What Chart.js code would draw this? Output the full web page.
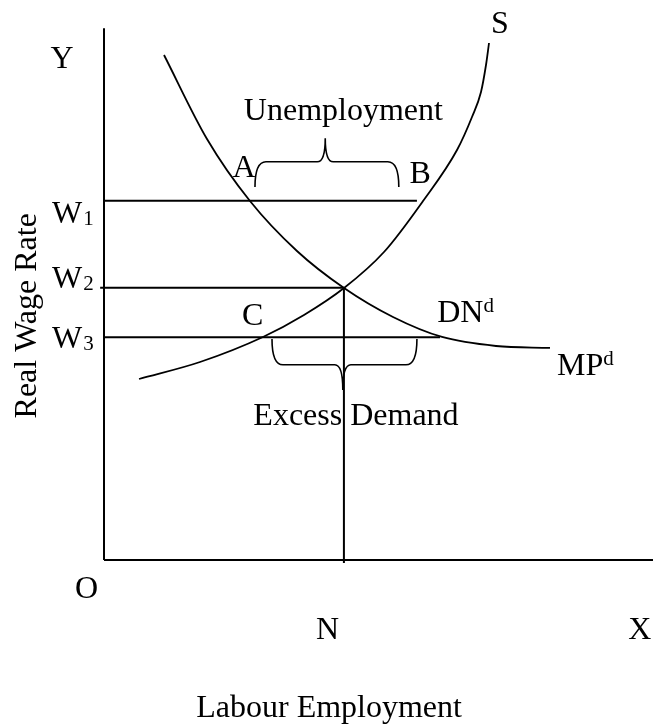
<!DOCTYPE html>
<html lang="en">
<head>
  <meta charset="UTF-8" />
  <title>Real Wage Rate and Labour Employment</title>
  <script src="https://cdn.jsdelivr.net/npm/chart.js"></script>
  <style>
    html, body { margin: 0; padding: 0; background: #fff; }
    canvas { display: block; }
  </style>
</head>
<body>
  <canvas id="wageChart" width="653" height="726"></canvas>

  <script>
    // Curves (x = labour employment, y = real wage rate, arbitrary units)
    const demandX = [1.093, 1.876, 2.659, 3.515, 4.372, 5.264, 6.157, 7.140, 8.124];
    const demandY = [9.182, 7.655, 6.527, 5.618, 4.945, 4.418, 4.055, 3.891, 3.855];
    const supplyX = [0.638, 1.749, 2.896, 3.643, 4.372, 5.100, 5.811, 6.430, 6.703, 6.867, 6.958, 7.013];
    const supplyY = [3.291, 3.600, 4.055, 4.455, 4.945, 5.600, 6.527, 7.455, 8.055, 8.509, 9.000, 9.400];

    // Wage levels and the employment level N
    const wageNames = ['W1', 'W2', 'W3'];
    const wageLevels = [6.53, 4.95, 4.05];
    const wageLineStart = [0, -0.07, 0];
    const wageLineEnd = [5.70, 4.37, 6.12];
    const nLevel = 4.37;
    const axisTopY = 9.67;
    const axisRightX = 10;

    // Braces: ends, bar and tip (data units)
    const braceNames = ['Unemployment', 'Excess Demand'];
    const braceX1 = [2.75, 3.06];
    const braceX2 = [5.37, 5.70];
    const braceTipX = [4.03, 4.35];
    const braceEndY = [6.78, 4.02];
    const braceBarY = [7.24, 3.55];
    const braceTipY = [7.67, 3.09];

    // Text labels
    const labelText = ['Y', 'S', 'Unemployment', 'A', 'B', 'C', 'DN', 'MP', 'Excess Demand', 'O', 'N', 'X', 'Labour Employment'];
    const labelX = [-0.765, 7.21, 4.36, 2.55, 5.76, 2.71, 6.07, 8.25, 4.59, -0.32, 4.07, 9.76, 4.10];
    const labelY = [8.945, 9.58, 8.00, 6.96, 6.86, 4.27, 4.33, 3.36, 2.455, -0.69, -1.44, -1.44, -2.855];
    const labelAlign = ['center', 'center', 'center', 'center', 'center', 'center', 'left', 'left', 'center', 'center', 'center', 'center', 'center'];
    const labelSup = ['', '', '', '', '', '', 'd', 'd', '', '', '', '', ''];
    const wageLabelX = -0.947;
    const wageLabelY = [6.13, 4.945, 3.855];
    const yTitle = 'Real Wage Rate';
    const yTitleX = -1.24;
    const yTitleY = 4.44;

    const serif = "'Liberation Serif', 'Times New Roman', serif";

    function pts(xs, ys) {
      return xs.map((x, i) => ({ x: x, y: ys[i] }));
    }

    function lineSet(data, extra) {
      return Object.assign({
        data: data,
        showLine: true,
        borderColor: '#000',
        borderWidth: 2,
        pointRadius: 0,
        fill: false,
        clip: false
      }, extra || {});
    }

    const datasets = [
      lineSet(pts([0, 0], [0, axisTopY])),
      lineSet(pts([0, axisRightX], [0, 0])),
      lineSet(pts(demandX, demandY), { cubicInterpolationMode: 'monotone', borderWidth: 1.8 }),
      lineSet(pts(supplyX, supplyY), { cubicInterpolationMode: 'monotone', borderWidth: 1.8 }),
      lineSet(pts([nLevel, nLevel], [wageLevels[1], -0.055]))
    ];
    wageLevels.forEach((w, i) => {
      datasets.push(lineSet(pts([wageLineStart[i], wageLineEnd[i]], [w, w])));
    });

    const annotations = {
      id: 'annotations',
      afterDatasetsDraw(chart) {
        const c = chart.ctx;
        const xs = chart.scales.x;
        const ys = chart.scales.y;
        const px = v => xs.getPixelForValue(v);
        const py = v => ys.getPixelForValue(v);

        c.save();
        c.fillStyle = '#000';
        c.strokeStyle = '#000';

        // braces
        c.lineWidth = 1.6;
        braceNames.forEach((name, i) => {
          const x1 = px(braceX1[i]), x2 = px(braceX2[i]), xt = px(braceTipX[i]);
          const ye = py(braceEndY[i]), yb = py(braceBarY[i]), yt = py(braceTipY[i]);
          const r = 11, rt = 8;
          c.beginPath();
          c.moveTo(x1, ye);
          c.quadraticCurveTo(x1, yb, x1 + r, yb);
          c.lineTo(xt - rt, yb);
          c.quadraticCurveTo(xt, yb, xt, yt);
          c.quadraticCurveTo(xt, yb, xt + rt, yb);
          c.lineTo(x2 - r, yb);
          c.quadraticCurveTo(x2, yb, x2, ye);
          c.stroke();
        });

        // labels
        c.textBaseline = 'alphabetic';
        labelText.forEach((t, i) => {
          c.font = '32px ' + serif;
          c.textAlign = labelAlign[i];
          const x = px(labelX[i]), y = py(labelY[i]);
          c.fillText(t, x, y);
          if (labelSup[i]) {
            const w = c.measureText(t).width;
            c.font = '21px ' + serif;
            c.textAlign = 'left';
            c.fillText(labelSup[i], x + w, y - 10);
          }
        });

        // W1, W2, W3 with subscripts
        wageNames.forEach((n, i) => {
          const x = px(wageLabelX), y = py(wageLabelY[i]);
          c.font = '32px ' + serif;
          c.textAlign = 'left';
          c.fillText(n[0], x, y);
          const w = c.measureText(n[0]).width;
          c.font = '21px ' + serif;
          c.fillText(n.slice(1), x + w + 1, y + 2);
        });

        // rotated y title
        c.font = '32px ' + serif;
        c.textAlign = 'center';
        c.translate(px(yTitleX), py(yTitleY));
        c.rotate(-Math.PI / 2);
        c.fillText(yTitle, 0, 0);
        c.restore();
      }
    };

    new Chart(document.getElementById('wageChart').getContext('2d'), {
      type: 'scatter',
      data: { datasets: datasets },
      options: {
        responsive: false,
        animation: false,
        layout: { padding: { left: 104, right: 0, top: 10, bottom: 166 } },
        scales: {
          x: { type: 'linear', min: 0, max: 10, display: false },
          y: { type: 'linear', min: 0, max: 10, display: false }
        },
        plugins: {
          legend: { display: false },
          tooltip: { enabled: false },
          title: { display: false }
        }
      },
      plugins: [annotations]
    });
  </script>
</body>
</html>
